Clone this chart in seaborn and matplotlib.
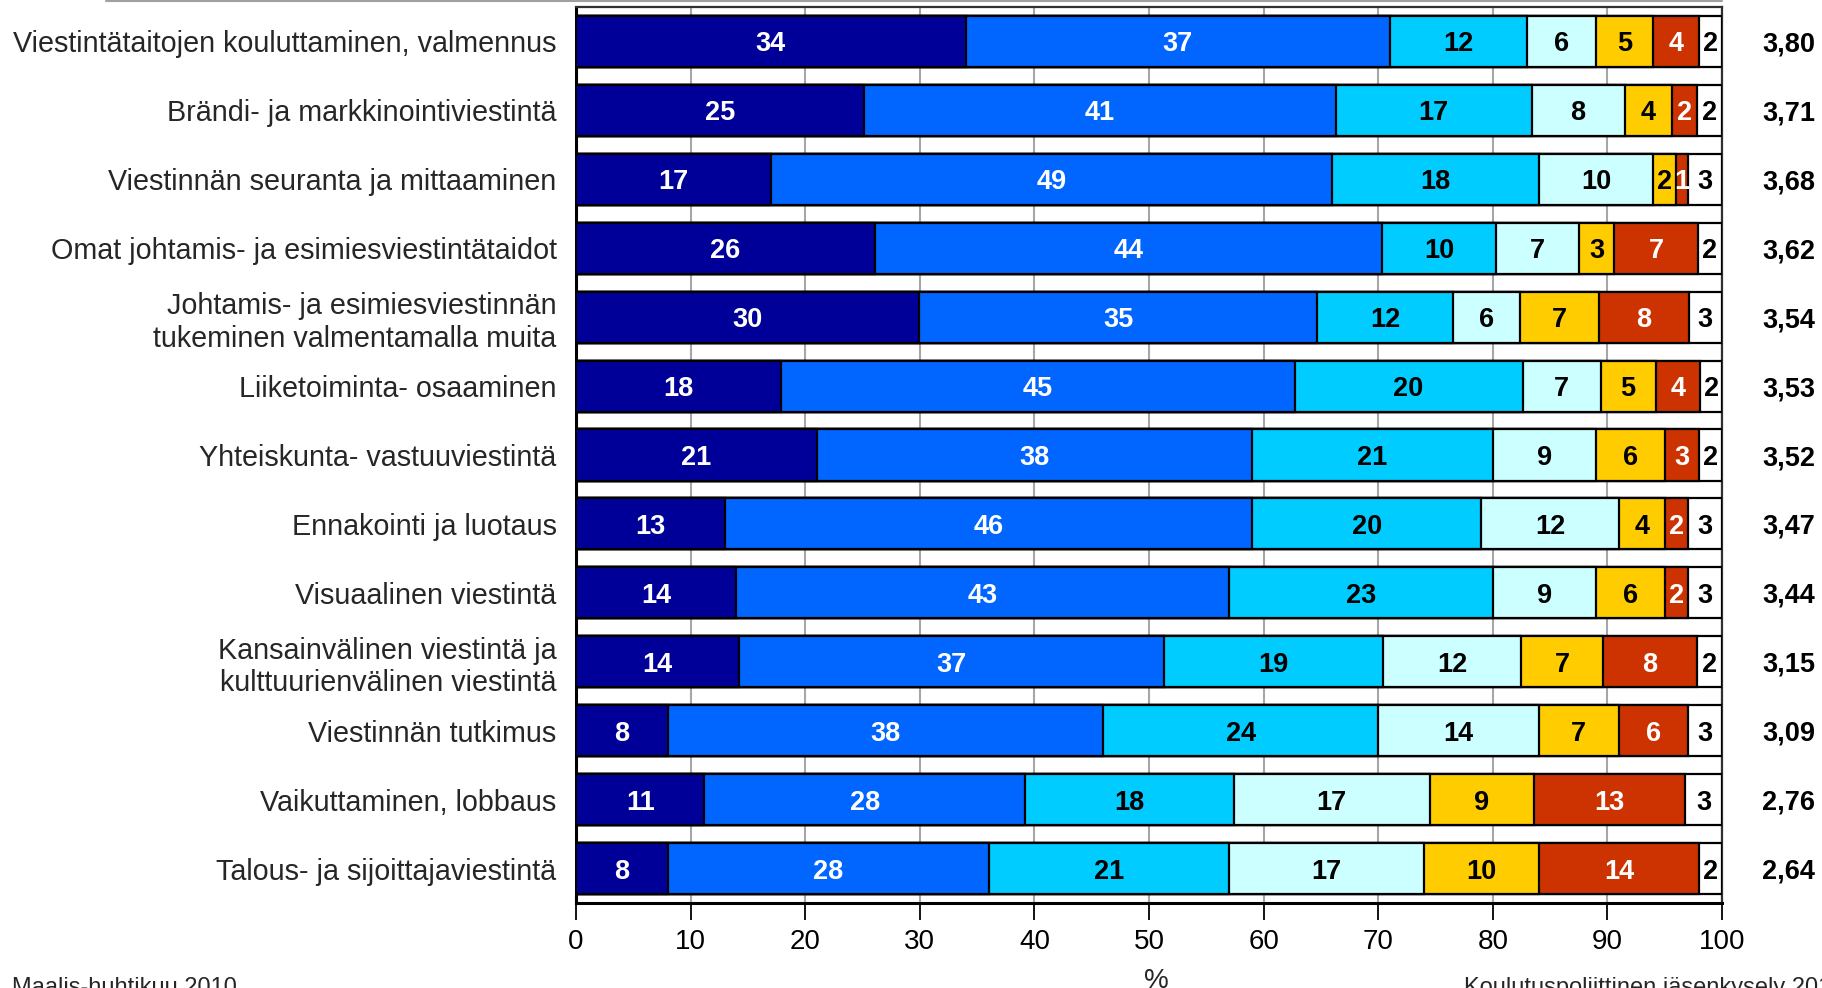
import numpy as np
import pandas as pd
import matplotlib
matplotlib.use("Agg")
import matplotlib.pyplot as plt
import seaborn as sns

categories = [
    "Viestintätaitojen kouluttaminen, valmennus",
    "Brändi- ja markkinointiviestintä",
    "Viestinnän seuranta ja mittaaminen",
    "Omat johtamis- ja esimiesviestintätaidot",
    "Johtamis- ja esimiesviestinnän\ntukeminen valmentamalla muita",
    "Liiketoiminta- osaaminen",
    "Yhteiskunta- vastuuviestintä",
    "Ennakointi ja luotaus",
    "Visuaalinen viestintä",
    "Kansainvälinen viestintä ja\nkulttuurienvälinen viestintä",
    "Viestinnän tutkimus",
    "Vaikuttaminen, lobbaus",
    "Talous- ja sijoittajaviestintä",
]

# Share of answers (%) per response class, from the highest class to the lowest
# (unrounded shares; the labels show them rounded to whole percents)
s1 = [34.0, 25.1, 17.0, 26.1, 29.9, 17.9, 21.0, 13.0, 14.0, 14.2, 8.0, 11.2, 8.0]
s2 = [37.0, 41.2, 49.0, 44.2, 34.8, 44.8, 38.0, 46.0, 43.0, 37.1, 38.0, 28.0, 28.0]
s3 = [12.0, 17.1, 18.0, 10.0, 11.8, 19.9, 21.0, 20.0, 23.0, 19.1, 24.0, 18.2, 21.0]
s4 = [6.0, 8.1, 10.0, 7.2, 5.9, 6.8, 9.0, 12.0, 9.0, 12.1, 14.0, 17.1, 17.0]
s5 = [5.0, 4.1, 2.0, 3.1, 6.9, 4.8, 6.0, 4.0, 6.0, 7.1, 7.0, 9.1, 10.0]
s6 = [4.0, 2.2, 1.0, 7.3, 7.8, 3.9, 3.0, 2.0, 2.0, 8.2, 6.0, 13.2, 14.0]
s7 = [2.0, 2.2, 3.0, 2.1, 2.9, 1.9, 2.0, 3.0, 3.0, 2.2, 3.0, 3.2, 2.0]

# Mean score per topic
means = ["3,80", "3,71", "3,68", "3,62", "3,54", "3,53", "3,52",
         "3,47", "3,44", "3,15", "3,09", "2,76", "2,64"]

xticks = [0, 10, 20, 30, 40, 50, 60, 70, 80, 90, 100]

series = [s1, s2, s3, s4, s5, s6, s7]
colors = ["#000099", "#0066FF", "#00CCFF", "#CCFFFF", "#FFCC00", "#CC3300", "#FFFFFF"]
text_colors = ["white", "white", "black", "black", "black", "white", "black"]

sns.set_style("white")
plt.rcParams["font.family"] = ["Liberation Sans", "DejaVu Sans"]

fig = plt.figure(figsize=(18.22, 9.88), dpi=100)
ax = fig.add_axes([576 / 1822, 85 / 988, (1722 - 576) / 1822, (981 - 85) / 988])

vals = np.array(series, dtype=float)          # shape (7, n)
cum = np.cumsum(vals, axis=0)

# Stack the segments by drawing cumulative totals from the widest layer inwards
for k in range(len(series) - 1, -1, -1):
    df = pd.DataFrame({"cat": categories, "val": cum[k]})
    sns.barplot(data=df, x="val", y="cat", orient="h", color=colors[k],
                saturation=1, edgecolor="black", linewidth=1.6, width=0.74,
                ax=ax, zorder=3)

# Segment value labels (rounded shares)
for k in range(len(series)):
    for i in range(len(categories)):
        v = vals[k, i]
        xc = cum[k, i] - v / 2
        ax.text(xc, i, f"{int(round(v))}", ha="center", va="center_baseline",
                fontsize=19.5, fontweight="bold", color=text_colors[k],
                zorder=5, clip_on=False)

# Mean values to the right of the bars
for i, m in enumerate(means):
    ax.text(105.8, i, m, ha="center", va="center_baseline", fontsize=19.5,
            fontweight="bold", color="black", clip_on=False)

ax.set_xlim(0, 100)
ax.set_ylim(len(categories) - 0.5, -0.5)
ax.set_xticks(xticks)
ax.set_xticklabels([str(t) for t in xticks])
ax.set_xlabel("")
ax.set_ylabel("")

ax.grid(axis="x", color="#A6A6A6", linewidth=1.5, zorder=0)
ax.grid(axis="y", visible=False)
ax.set_axisbelow(True)

ax.tick_params(axis="x", direction="out", length=12, width=1.3, pad=7,
               labelsize=20, colors="black", bottom=True)
ax.tick_params(axis="y", length=0, pad=14, labelsize=20.7)
for lab in ax.get_yticklabels():
    lab.set_horizontalalignment("right")
    lab.set_multialignment("right")

for side in ["left", "bottom"]:
    ax.spines[side].set_color("black")
    ax.spines[side].set_linewidth(2.2)
for side in ["top", "right"]:
    ax.spines[side].set_color("#303030")
    ax.spines[side].set_linewidth(1.6)

# Thin rule along the top of the slide
fig.add_artist(plt.Line2D([106 / 1822, 1722 / 1822], [1 - 1 / 988, 1 - 1 / 988],
                          color="#A0A0A0", linewidth=1.5))

fig.text(1156 / 1822, 1 - 988 / 988, "%", ha="center", va="baseline", fontsize=20)
fig.text(12 / 1822, -6 / 988, "Maalis-huhtikuu 2010", ha="left", va="baseline",
         fontsize=17)
fig.text(1464 / 1822, -6 / 988, "Koulutuspoliittinen jäsenkysely 2010", ha="left",
         va="baseline", fontsize=17)

fig.savefig("out.png", dpi=100)
